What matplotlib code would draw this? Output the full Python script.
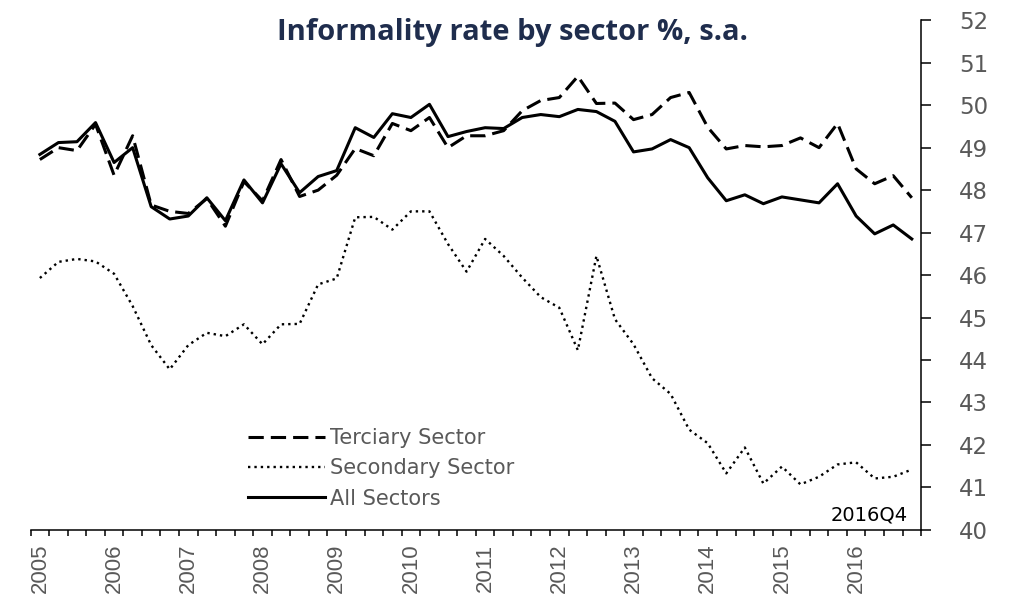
import matplotlib.pyplot as plt
import numpy as np

# Quarterly data, 2005Q1 .. 2016Q4
years = [str(y) for y in range(2005, 2017)]
last_quarter = "2016Q4"

terciary = [48.72, 49.0, 48.93, 49.55, 48.35, 49.28, 47.65, 47.5, 47.45, 47.8,
            47.15, 48.2, 47.75, 48.72, 47.85, 48.0, 48.35, 48.98, 48.81, 49.57,
            49.4, 49.71, 49.0, 49.28, 49.28, 49.4, 49.87, 50.11, 50.18, 50.68,
            50.04, 50.05, 49.66, 49.78, 50.18, 50.3, 49.48, 48.97, 49.05, 49.02,
            49.05, 49.23, 49.0, 49.57, 48.5, 48.15, 48.34, 47.82]

secondary = [45.93, 46.31, 46.38, 46.32, 46.03, 45.27, 44.35, 43.78, 44.35, 44.64,
             44.56, 44.84, 44.37, 44.84, 44.85, 45.78, 45.92, 47.36, 47.37, 47.07,
             47.5, 47.5, 46.73, 46.08, 46.85, 46.45, 45.94, 45.48, 45.23, 44.23,
             46.45, 44.96, 44.37, 43.57, 43.2, 42.36, 42.04, 41.33, 41.94, 41.09,
             41.49, 41.07, 41.25, 41.54, 41.59, 41.21, 41.25, 41.42]

all_sectors = [48.84, 49.12, 49.14, 49.59, 48.65, 49.0, 47.61, 47.32, 47.39, 47.82,
               47.28, 48.24, 47.70, 48.62, 47.94, 48.32, 48.46, 49.47, 49.24, 49.80,
               49.71, 50.02, 49.26, 49.38, 49.47, 49.45, 49.71, 49.78, 49.73, 49.90,
               49.85, 49.62, 48.90, 48.97, 49.19, 49.0, 48.29, 47.75, 47.89, 47.68,
               47.84, 47.77, 47.70, 48.15, 47.39, 46.97, 47.18, 46.85]

grey = "#595959"

fig = plt.figure(figsize=(10.2, 5.96), dpi=100)
ax = fig.add_axes([0.030, 0.111, 0.873, 0.855])

x = np.arange(len(all_sectors))

ax.plot(x, terciary, color="black", lw=2.2, dashes=(5, 2.3), label="Terciary Sector")
ax.plot(x, secondary, color="black", lw=1.7, dashes=(1, 1.7), label="Secondary Sector")
ax.plot(x, all_sectors, color="black", lw=2.2, label="All Sectors")

ax.set_xlim(-0.5, len(x) - 0.5)
ax.set_ylim(40, 52)

# spines: only bottom and right
ax.spines["top"].set_visible(False)
ax.spines["left"].set_visible(False)
ax.spines["bottom"].set_linewidth(1.1)
ax.spines["right"].set_linewidth(1.1)

# y axis on the right
ax.yaxis.tick_right()
ax.set_yticks(range(40, 53))
ax.set_yticklabels([str(v) for v in range(40, 53)], fontsize=16.5, color=grey,
                   fontfamily="DejaVu Sans")
ax.tick_params(axis="y", direction="out", length=7.5, width=1.1, pad=20)

# x axis: year labels at Q1, small ticks at quarter boundaries
ax.set_xticks(x[::4])
ax.set_xticklabels(years, rotation=90, fontsize=16, color=grey,
                   fontfamily="Liberation Sans")
ax.set_xticks(np.arange(len(x) + 1) - 0.5, minor=True)
ax.tick_params(axis="x", which="major", length=0, pad=10)
ax.tick_params(axis="x", which="minor", direction="out", length=4, width=1.1)

fig.text(0.502, 0.945, "Informality rate by sector %, s.a.", ha="center", va="center",
         fontsize=21, fontweight="bold", color="#1f2d4d", fontfamily="Open Sans")

ax.legend(loc="upper left", bbox_to_anchor=(0.243, 0.282), bbox_transform=fig.transFigure,
          frameon=False, fontsize=15, handlelength=3.7, handletextpad=0.25,
          labelspacing=0.5, borderpad=0, borderaxespad=0, labelcolor=grey)

fig.text(0.890, 0.136, last_quarter, ha="right", va="center", fontsize=14, color="black")

plt.savefig("out.png", dpi=100)
